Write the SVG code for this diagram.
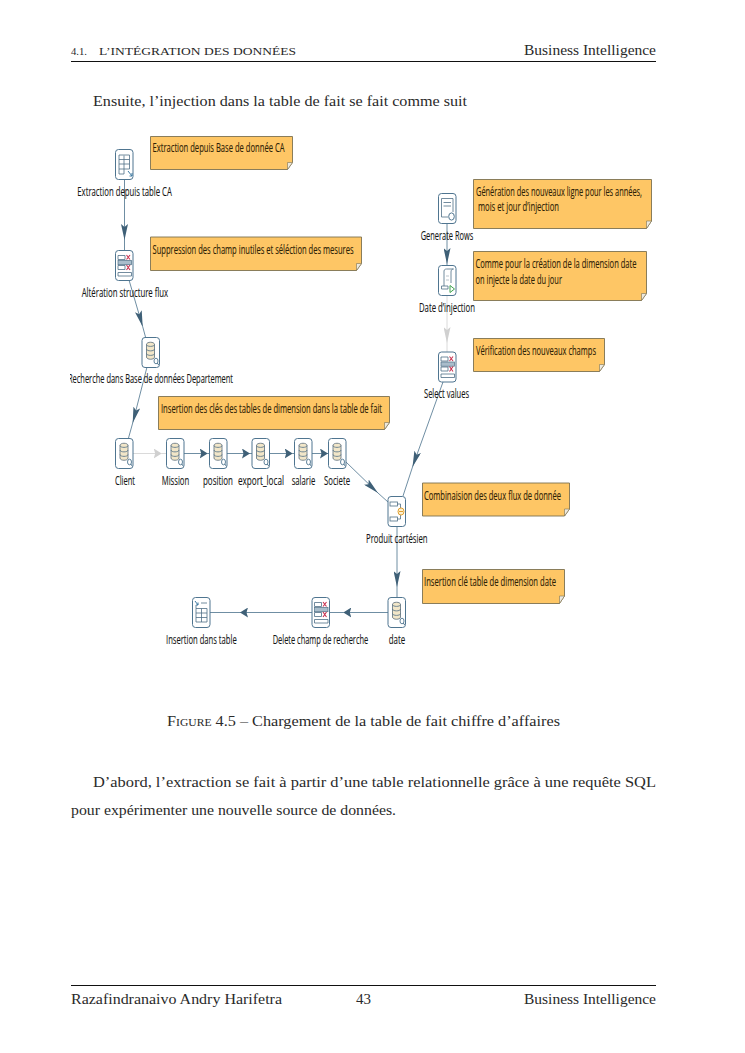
<svg xmlns="http://www.w3.org/2000/svg" width="745" height="1053" viewBox="0 0 745 1053">
<style>
.page{font-family:"Liberation Serif",serif;font-size:14px;fill:#2a2a2a}
.small{font-size:11px}
.lab{font-family:"Open Sans","Noto Sans",sans-serif;font-size:12.5px;font-weight:500;fill:#151515;stroke:#151515;stroke-width:.12}
.nt{font-family:"Open Sans","Noto Sans",sans-serif;font-size:12.5px;font-weight:500;fill:#2e2205;stroke:#2e2205;stroke-width:.12}
.rule{stroke:#111;stroke-width:1;fill:none}
.note{fill:#fec665;stroke:#7d7250;stroke-width:.9}
.fold{fill:#ece9e0;stroke:#7d7250;stroke-width:.6}
.box{fill:#fff;stroke:#4f7590;stroke-width:1}
.ic{fill:none;stroke:#4f6f86;stroke-width:.8}
.wire{fill:none;stroke:#5f8199;stroke-width:.9}
.wire.off{stroke:#d6d6d6}
</style>
<defs>
<clipPath id="figclip"><rect x="70" y="125" width="600" height="560"/></clipPath>
<marker id="hv" markerUnits="userSpaceOnUse" markerWidth="17" markerHeight="7" refX="16" refY="3.500" orient="auto" viewBox="0 0 17 7"><path d="M0 0L16 3.500L0 7L3 3.500Z" fill="#3f6077"/></marker>
<marker id="hh" markerUnits="userSpaceOnUse" markerWidth="9" markerHeight="10" refX="8" refY="5" orient="auto" viewBox="0 0 9 10"><path d="M0 0L8 5L0 10L1.500 5Z" fill="#3f6077"/></marker>
<marker id="hvo" markerUnits="userSpaceOnUse" markerWidth="17" markerHeight="7" refX="16" refY="3.500" orient="auto" viewBox="0 0 17 7"><path d="M0 0L16 3.500L0 7L3 3.500Z" fill="#d0d0d0"/></marker>
<marker id="hho" markerUnits="userSpaceOnUse" markerWidth="9" markerHeight="10" refX="8" refY="5" orient="auto" viewBox="0 0 9 10"><path d="M0 0L8 5L0 10L1.500 5Z" fill="#d0d0d0"/></marker>
<symbol id="i-db" width="19" height="31" viewBox="0 0 19 31" overflow="visible">
<rect class="box" x=".5" y=".5" width="17.500" height="30" rx="3"/>
<path d="M5 7.500C5 4.500 13 4.500 13 7.500V20C13 23 5 23 5 20Z" fill="#f2e6c8" stroke="#5b6c78" stroke-width=".8"/>
<path class="ic" d="M5 7.500C5 10 13 10 13 7.500M5 12C5 14.500 13 14.500 13 12M5 16.500C5 19 13 19 13 16.500"/>
<ellipse cx="14.500" cy="24" rx="2" ry="2.800" fill="#fff" stroke="#4f7590" stroke-width=".9"/>
<path d="M15.800 26L17.200 28" stroke="#4f7590"/>
</symbol>
<symbol id="i-sel" width="19" height="31" viewBox="0 0 19 31" overflow="visible">
<rect class="box" x=".5" y=".5" width="17.500" height="30" rx="3"/>
<path class="ic" d="M3 5.500H10V9.500H3ZM3 15.500H10V19.500H3ZM3 22.500H16.500V26H3Z"/>
<rect x="3" y="10.500" width="13.500" height="4.200" fill="#a9bdcb" stroke="#4f6f86" stroke-width=".7"/>
<path d="M11.500 5L15 9.500M15 5L11.500 9.500M11.500 15L15 20M15 15L11.500 20" stroke="#c8304f" stroke-width="1.100" fill="none"/>
</symbol>
<symbol id="i-in" width="19" height="31" viewBox="0 0 19 31" overflow="visible">
<rect class="box" x=".5" y=".5" width="17.500" height="30" rx="3"/>
<path class="ic" d="M4 6H14.500V20H9V25H4ZM4 10.500H14.500M4 15H14.500M4 20H9M9 6.500V20"/>
<path d="M13 22L17 27M17 24V27H14.500" stroke="#3c78a0" fill="none"/>
</symbol>
<symbol id="i-out" width="19" height="31" viewBox="0 0 19 31" overflow="visible">
<rect class="box" x=".5" y=".5" width="17.500" height="30" rx="3"/>
<path class="ic" d="M9 6H15M4 11.500H15V25H4ZM4 16H15M4 20.500H15M9.500 11.500V25M4 11.500V8"/>
<path d="M3 4L6 8M6 5.500V8H4" stroke="#3c78a0" fill="none"/>
</symbol>
<symbol id="i-gen" width="19" height="31" viewBox="0 0 19 31" overflow="visible">
<rect class="box" x=".5" y=".5" width="17.500" height="30" rx="3"/>
<path class="ic" d="M10 24H3.500V5.500H15V19"/>
<path class="ic" d="M5.500 9.500H13M5.500 13H13"/>
<ellipse cx="13.500" cy="23.500" rx="2.800" ry="3.600" fill="#fff" stroke="#4f7590" stroke-width="1"/>
</symbol>
<symbol id="i-scr" width="19" height="31" viewBox="0 0 19 31" overflow="visible">
<rect class="box" x=".5" y=".5" width="17.500" height="30" rx="3"/>
<path class="ic" d="M6 21V6C6 4.500 7.500 4 8.500 4H15.500M15.500 4C14 4 13 5 13 7V18M3.500 24H10V21H3.500Z"/>
<path d="M8 11H11M8 15H11" stroke="#a8b5bf" stroke-width=".8"/>
<path d="M12 20.500L16.500 24L12 27.500Z" fill="#fff" stroke="#3fa34d" stroke-width="1"/>
</symbol>
<symbol id="i-join" width="19" height="31" viewBox="0 0 19 31" overflow="visible">
<rect class="box" x=".5" y=".5" width="17.500" height="30" rx="3"/>
<rect x="2.500" y="6" width="7.500" height="4" class="ic"/>
<rect x="2.500" y="21" width="7.500" height="4" class="ic"/>
<path class="ic" d="M10 8H13V12M10 23H13V19"/>
<ellipse cx="13.500" cy="15.500" rx="3" ry="3.600" fill="#fdf0d0" stroke="#e0a030" stroke-width="1"/>
<path d="M11.500 15.500H15.500" stroke="#e0a030"/>
</symbol>
</defs>

<g id="page-head">
<text class="page small" x="71" y="55" textLength="16" lengthAdjust="spacingAndGlyphs">4.1.</text>
<text class="page small" x="99" y="55" textLength="197" lengthAdjust="spacingAndGlyphs">L’INTÉGRATION DES DONNÉES</text>
<text class="page" x="524" y="55" textLength="132" lengthAdjust="spacingAndGlyphs">Business Intelligence</text>
<line class="rule" x1="71" y1="61.500" x2="656" y2="61.500"/>
<text class="page" x="93" y="106" textLength="374" lengthAdjust="spacingAndGlyphs">Ensuite, l’injection dans la table de fait se fait comme suit</text>
</g>

<g id="connectors">
<path class="wire" marker-mid="url(#hv)" d="M124.500 179L124.500 240L124.500 250"/>
<path class="wire" marker-mid="url(#hv)" d="M129 280L142.700 326.700L145.500 337"/>
<path class="wire" marker-mid="url(#hv)" d="M147 367L132.700 423L128.500 438"/>
<path class="wire off" marker-mid="url(#hho)" d="M133 453.500L161.700 453.500L166 453.500"/>
<path class="wire" marker-mid="url(#hh)" d="M184 453.500L207.700 453.500L209 453.500"/>
<path class="wire" marker-mid="url(#hh)" d="M227 453.500L250 453.500L252 453.500"/>
<path class="wire" marker-mid="url(#hh)" d="M269.500 453.500L292.700 453.500L294 453.500"/>
<path class="wire" marker-mid="url(#hh)" d="M312 453.500L328 453.500L328.500 453.500"/>
<path class="wire" marker-mid="url(#hv)" d="M346 462L378 493L388 502"/>
<path class="wire" marker-mid="url(#hv)" d="M443 382L412.500 467L403 496"/>
<path class="wire" marker-mid="url(#hv)" d="M447 223L447 264L447 265"/>
<path class="wire off" marker-mid="url(#hvo)" d="M447 296L447 343L447 352"/>
<path class="wire" marker-mid="url(#hv)" d="M397 526L397 587L397 597"/>
<path class="wire" marker-mid="url(#hh)" d="M388 612.500L343.300 612.500L329 612.500"/>
<path class="wire" marker-mid="url(#hh)" d="M312 612.500L240 612.500L210 612.500"/>
</g>

<g id="notes">
<g id="note-extraction"><path class="note" d="M150.500 136.500H292.500V162.500L287.500 169.500H150.500Z"/><path class="fold" d="M292.500 162.500L287.500 162.500V169.500Z"/><text class="nt" transform="matrix(.62 0 0 1 152.500 152)" textLength="212.900" lengthAdjust="spacingAndGlyphs">Extraction depuis Base de donnée CA</text></g>
<g id="note-suppression"><path class="note" d="M150.500 237H361.500V263.500L356.500 270.500H150.500Z"/><path class="fold" d="M361.500 263.500L356.500 263.500V270.500Z"/><text class="nt" transform="matrix(.62 0 0 1 152.500 254)" textLength="324.200" lengthAdjust="spacingAndGlyphs">Suppression des champ inutiles et séléction des mesures</text></g>
<g id="note-cles"><path class="note" d="M158.500 396.500H389.500V422.500L384.500 429.500H158.500Z"/><path class="fold" d="M389.500 422.500L384.500 422.500V429.500Z"/><text class="nt" transform="matrix(.62 0 0 1 161 413)" textLength="356.500" lengthAdjust="spacingAndGlyphs">Insertion des clés des tables de dimension dans la table de fait</text></g>
<g id="note-generation"><path class="note" d="M473.500 179.500H651.500V221L646.500 228.500H473.500Z"/><path class="fold" d="M651.500 221L646.500 221V228.500Z"/><text class="nt" transform="matrix(.62 0 0 1 476 196)" textLength="267.700" lengthAdjust="spacingAndGlyphs">Génération des nouveaux ligne pour les années,</text><text class="nt" transform="matrix(.62 0 0 1 478 211)" textLength="130.600" lengthAdjust="spacingAndGlyphs">mois et jour d’injection</text></g>
<g id="note-comme"><path class="note" d="M473.500 251.500H646.500V293.500L641.500 300.500H473.500Z"/><path class="fold" d="M646.500 293.500L641.500 293.500V300.500Z"/><text class="nt" transform="matrix(.62 0 0 1 475.500 268)" textLength="259.700" lengthAdjust="spacingAndGlyphs">Comme pour la création de la dimension date</text><text class="nt" transform="matrix(.62 0 0 1 475.500 284)" textLength="139.500" lengthAdjust="spacingAndGlyphs">on injecte la date du jour</text></g>
<g id="note-verif"><path class="note" d="M473.500 338.500H604.500V364.500L599.500 371.500H473.500Z"/><path class="fold" d="M604.500 364.500L599.500 364.500V371.500Z"/><text class="nt" transform="matrix(.62 0 0 1 476 355)" textLength="193.500" lengthAdjust="spacingAndGlyphs">Vérification des nouveaux champs</text></g>
<g id="note-combi"><path class="note" d="M422.500 483H569.500V509L564.500 516H422.500Z"/><path class="fold" d="M569.500 509L564.500 509V516Z"/><text class="nt" transform="matrix(.62 0 0 1 424 500)" textLength="221" lengthAdjust="spacingAndGlyphs">Combinaision des deux flux de donnée</text></g>
<g id="note-date"><path class="note" d="M422.500 569.500H564.500V596L559.500 603.500H422.500Z"/><path class="fold" d="M564.500 596L559.500 596V603.500Z"/><text class="nt" transform="matrix(.62 0 0 1 424 586)" textLength="212.900" lengthAdjust="spacingAndGlyphs">Insertion clé table de dimension date</text></g>
</g>

<g id="nodes" clip-path="url(#figclip)">
<g id="n-extraction"><use href="#i-in" x="115" y="149"/><text class="lab" transform="matrix(.62 0 0 1 77.300 196)" textLength="152.400" lengthAdjust="spacingAndGlyphs">Extraction depuis table CA</text></g>
<g id="n-alteration"><use href="#i-sel" x="115" y="250"/><text class="lab" transform="matrix(.62 0 0 1 81.700 297)" textLength="139.500" lengthAdjust="spacingAndGlyphs">Altération structure flux</text></g>
<g id="n-recherche"><use href="#i-db" x="141.500" y="337"/><text class="lab" transform="matrix(.62 0 0 1 68 383)" textLength="266.100" lengthAdjust="spacingAndGlyphs">Recherche dans Base de données Departement</text></g>
<g id="n-client"><use href="#i-db" x="115" y="438"/><text class="lab" transform="matrix(.62 0 0 1 115 485)" textLength="32.300" lengthAdjust="spacingAndGlyphs">Client</text></g>
<g id="n-mission"><use href="#i-db" x="166" y="438"/><text class="lab" transform="matrix(.62 0 0 1 161.700 485)" textLength="44.400" lengthAdjust="spacingAndGlyphs">Mission</text></g>
<g id="n-position"><use href="#i-db" x="209" y="438"/><text class="lab" transform="matrix(.62 0 0 1 203 485)" textLength="48.400" lengthAdjust="spacingAndGlyphs">position</text></g>
<g id="n-export"><use href="#i-db" x="251.500" y="438"/><text class="lab" transform="matrix(.62 0 0 1 238 485)" textLength="74.200" lengthAdjust="spacingAndGlyphs">export_local</text></g>
<g id="n-salarie"><use href="#i-db" x="294" y="438"/><text class="lab" transform="matrix(.62 0 0 1 291.700 485)" textLength="37.900" lengthAdjust="spacingAndGlyphs">salarie</text></g>
<g id="n-societe"><use href="#i-db" x="328" y="438"/><text class="lab" transform="matrix(.62 0 0 1 324 485)" textLength="41.900" lengthAdjust="spacingAndGlyphs">Societe</text></g>
<g id="n-produit"><use href="#i-join" x="387.500" y="496"/><text class="lab" transform="matrix(.62 0 0 1 366 543)" textLength="99.200" lengthAdjust="spacingAndGlyphs">Produit cartésien</text></g>
<g id="n-date"><use href="#i-db" x="387.500" y="597"/><text class="lab" transform="matrix(.62 0 0 1 388.700 644)" textLength="26.600" lengthAdjust="spacingAndGlyphs">date</text></g>
<g id="n-delete"><use href="#i-sel" x="311.500" y="597"/><text class="lab" transform="matrix(.62 0 0 1 272.700 644)" textLength="154" lengthAdjust="spacingAndGlyphs">Delete champ de recherche</text></g>
<g id="n-insertion"><use href="#i-out" x="192" y="597"/><text class="lab" transform="matrix(.62 0 0 1 166 644)" textLength="114" lengthAdjust="spacingAndGlyphs">Insertion dans table</text></g>
<g id="n-generate"><use href="#i-gen" x="438" y="193"/><text class="lab" transform="matrix(.62 0 0 1 420.700 240)" textLength="84.700" lengthAdjust="spacingAndGlyphs">Generate Rows</text></g>
<g id="n-dateinj"><use href="#i-scr" x="438" y="265"/><text class="lab" transform="matrix(.62 0 0 1 419 312)" textLength="90.300" lengthAdjust="spacingAndGlyphs">Date d’injection</text></g>
<g id="n-select"><use href="#i-sel" x="438" y="351.500"/><text class="lab" transform="matrix(.62 0 0 1 424 398)" textLength="72.600" lengthAdjust="spacingAndGlyphs">Select values</text></g>
</g>

<g id="page-body">
<text class="page" x="167" y="726" textLength="393" lengthAdjust="spacingAndGlyphs"><tspan style="font-variant:small-caps">Figure</tspan> 4.5 – Chargement de la table de fait chiffre d’affaires</text>
<text class="page" x="93" y="787" textLength="563" lengthAdjust="spacingAndGlyphs">D’abord, l’extraction se fait à partir d’une table relationnelle grâce à une requête SQL</text>
<text class="page" x="71" y="815" textLength="325" lengthAdjust="spacingAndGlyphs">pour expérimenter une nouvelle source de données.</text>
</g>

<g id="page-foot">
<line class="rule" x1="71" y1="985.500" x2="656" y2="985.500"/>
<text class="page" x="71" y="1004" textLength="211" lengthAdjust="spacingAndGlyphs">Razafindranaivo Andry Harifetra</text>
<text class="page" x="356" y="1004" textLength="15" lengthAdjust="spacingAndGlyphs">43</text>
<text class="page" x="524" y="1004" textLength="132" lengthAdjust="spacingAndGlyphs">Business Intelligence</text>
</g>
</svg>
